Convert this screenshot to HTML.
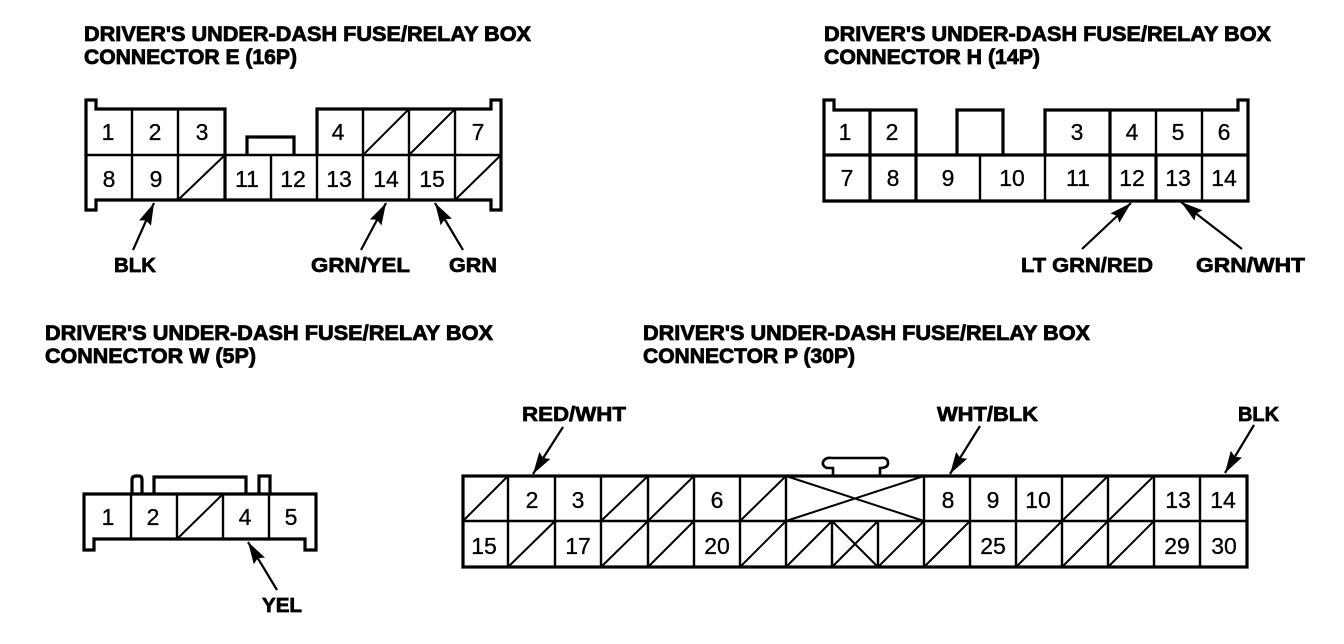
<!DOCTYPE html>
<html><head><meta charset="utf-8"><style>
html,body{margin:0;padding:0;background:#fff;width:1344px;height:644px;overflow:hidden}
svg{display:block}
.t{font:bold 21px "Liberation Sans",sans-serif;fill:#000;stroke:#000;stroke-width:.8}
.l{font:bold 20px "Liberation Sans",sans-serif;fill:#000;stroke:#000;stroke-width:.7}
.n{font:23px "Liberation Sans",sans-serif;fill:#000;text-anchor:middle;stroke:#000;stroke-width:.3}
.b{fill:none;stroke:#000;stroke-width:3.2;stroke-linejoin:miter}
.g{fill:none;stroke:#000;stroke-width:2.4}
.d{fill:none;stroke:#000;stroke-width:2}
.a{fill:none;stroke:#000;stroke-width:2.2;marker-end:url(#h)}
</style></head><body>
<svg width="1344" height="644" viewBox="0 0 1344 644" xmlns="http://www.w3.org/2000/svg">
<defs><marker id="h" markerUnits="userSpaceOnUse" markerWidth="30" markerHeight="18" refX="26" refY="9" orient="auto"><path d="M4,2.5 L26,9 L4,15.5 L7,9Z" fill="#000"/></marker></defs>

<text class="t" x="84" y="41" textLength="447" lengthAdjust="spacingAndGlyphs">DRIVER'S UNDER-DASH FUSE/RELAY BOX</text>
<text class="t" x="84" y="64" textLength="213" lengthAdjust="spacingAndGlyphs">CONNECTOR E (16P)</text>
<text class="t" x="824" y="41" textLength="447" lengthAdjust="spacingAndGlyphs">DRIVER'S UNDER-DASH FUSE/RELAY BOX</text>
<text class="t" x="824" y="64" textLength="216" lengthAdjust="spacingAndGlyphs">CONNECTOR H (14P)</text>
<text class="t" x="45" y="340" textLength="448" lengthAdjust="spacingAndGlyphs">DRIVER'S UNDER-DASH FUSE/RELAY BOX</text>
<text class="t" x="45" y="363" textLength="211" lengthAdjust="spacingAndGlyphs">CONNECTOR W (5P)</text>
<text class="t" x="643" y="340" textLength="447" lengthAdjust="spacingAndGlyphs">DRIVER'S UNDER-DASH FUSE/RELAY BOX</text>
<text class="t" x="643" y="363" textLength="212" lengthAdjust="spacingAndGlyphs">CONNECTOR P (30P)</text>

<!-- Connector E -->
<path class="b" d="M86,155V100H96V109H225V155M317,155V109H491V100H501V155M86,155V210H96V200H491V210H501V155"/>
<path class="b" d="M247,155V137H294V155"/>
<path class="b" d="M225,155V200"/>
<path class="g" d="M86,155H501M132,109V200M178,109V200M271,155V200M317,155V200M363,109V200M409,109V200M455,109V200"/>
<path class="d" d="M178,200L225,155M363,155L409,109M409,155L455,109M455,200L501,155"/>
<g class="n">
<text x="108" y="140">1</text><text x="155" y="140">2</text><text x="202" y="140">3</text><text x="338" y="140">4</text><text x="478" y="140">7</text>
<text x="109" y="187">8</text><text x="156" y="187">9</text><text x="247" y="187">11</text><text x="293" y="187">12</text><text x="339" y="187">13</text><text x="386" y="187">14</text><text x="432" y="187">15</text>
</g>
<path class="a" d="M133,250L154,203"/>
<path class="a" d="M361,250L386,203"/>
<path class="a" d="M463,250L435,203"/>
<text class="l" x="114" y="272" textLength="42" lengthAdjust="spacingAndGlyphs">BLK</text>
<text class="l" x="311" y="272" textLength="99" lengthAdjust="spacingAndGlyphs">GRN/YEL</text>
<text class="l" x="449" y="272" textLength="48" lengthAdjust="spacingAndGlyphs">GRN</text>

<!-- Connector H -->
<path class="b" d="M824,155V100H834V110H916V155M957,155V110H1003V155M1045,155V110H1238V100H1248V201H824V155"/>
<path class="b" d="M824,155H1248M870,110V201M916,155V201M1110,110V201M1156,155V201"/>
<path class="g" d="M980,155V201M1045,155V201M1156,110V155M1202,110V201"/>
<g class="n">
<text x="845" y="140">1</text><text x="892" y="140">2</text><text x="1077" y="140">3</text><text x="1132" y="140">4</text><text x="1178" y="140">5</text><text x="1224" y="140">6</text>
<text x="847" y="186">7</text><text x="893" y="186">8</text><text x="948" y="186">9</text><text x="1012" y="186">10</text><text x="1078" y="186">11</text><text x="1132" y="186">12</text><text x="1178" y="186">13</text><text x="1224" y="186">14</text>
</g>
<path class="a" d="M1082,249L1131,203"/>
<path class="a" d="M1242,249L1181,202"/>
<text class="l" x="1021" y="272" textLength="132" lengthAdjust="spacingAndGlyphs">LT GRN/RED</text>
<text class="l" x="1196" y="272" textLength="109" lengthAdjust="spacingAndGlyphs">GRN/WHT</text>

<!-- Connector W -->
<path class="b" d="M84,550V494H316V550H305V539H94V550Z"/>
<path class="g" d="M131,494V539M177,494V539M223,494V539M269,494V539"/>
<path class="d" d="M177,539L223,494"/>
<path class="b" d="M132,494V480Q132,476 136,476H139Q142,476 142,480V494"/>
<path class="b" d="M154,494V477H246V494"/>
<path class="b" d="M259,494V476H270V494"/>
<g class="n">
<text x="108" y="525">1</text><text x="153" y="525">2</text><text x="245" y="525">4</text><text x="291" y="525">5</text>
</g>
<path class="a" d="M277,590L248,542"/>
<text class="l" x="262" y="612" textLength="40" lengthAdjust="spacingAndGlyphs">YEL</text>

<!-- Connector P -->
<rect class="b" x="463" y="476" width="784" height="91"/>
<path class="b" d="M833,475V468H827Q822,466 823,462Q825,457 832,458H880Q888,457 888,463Q888,468 880,468V475" style="stroke-width:2.6"/>
<path class="g" d="M463,521H1247M508,476V567M555,476V567M601,476V567M648,476V567M694,476V567M740,476V567M786,476V567M924,476V567M970,476V567M1016,476V567M1062,476V567M1108,476V567M1154,476V567M1200,476V567M832,521V567M878,521V567"/>
<path class="d" d="M463,521L508,476M601,521L648,476M648,521L694,476M740,521L786,476M1062,521L1108,476M1108,521L1154,476M508,567L555,521M601,567L648,521M648,567L694,521M740,567L786,521M786,567L832,521M832,567L878,521M832,521L878,567M878,567L924,521M924,567L970,521M1016,567L1062,521M1062,567L1108,521M1108,567L1154,521M786,476L924,521M786,521L924,476"/>
<g class="n">
<text x="532" y="508">2</text><text x="578" y="508">3</text><text x="717" y="508">6</text><text x="948" y="508">8</text><text x="993" y="508">9</text><text x="1038" y="508">10</text><text x="1178" y="508">13</text><text x="1223" y="508">14</text>
<text x="484" y="554">15</text><text x="578" y="554">17</text><text x="717" y="554">20</text><text x="993" y="554">25</text><text x="1177" y="554">29</text><text x="1224" y="554">30</text>
</g>
<path class="a" d="M563,427L533,474"/>
<path class="a" d="M980,426L950,474"/>
<path class="a" d="M1254,425L1225,473"/>
<text class="l" x="522" y="421" textLength="104" lengthAdjust="spacingAndGlyphs">RED/WHT</text>
<text class="l" x="937" y="421" textLength="101" lengthAdjust="spacingAndGlyphs">WHT/BLK</text>
<text class="l" x="1238" y="421" textLength="41" lengthAdjust="spacingAndGlyphs">BLK</text>
</svg>
</body></html>
